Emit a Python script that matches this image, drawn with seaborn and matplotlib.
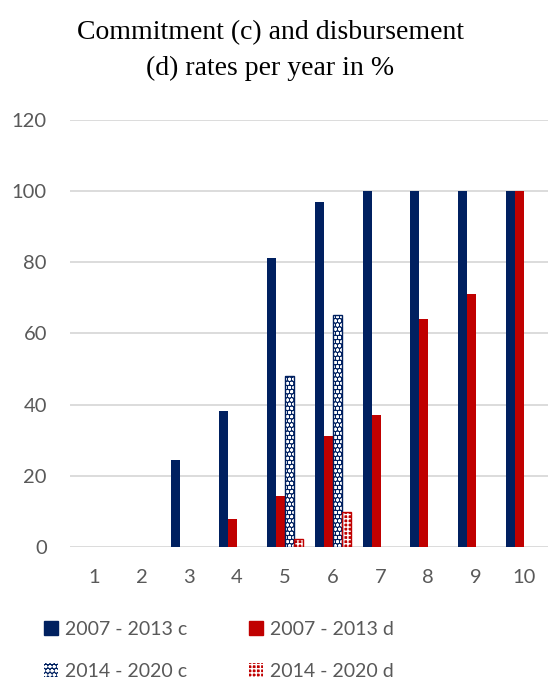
import matplotlib
matplotlib.use("Agg")
import matplotlib.pyplot as plt
import matplotlib.patches as mpatches
import seaborn as sns
import pandas as pd

# Years since start of programming period
years = ["1", "2", "3", "4", "5", "6", "7", "8", "9", "10"]
series = ["2007 - 2013 c", "2007 - 2013 d", "2014 - 2020 c", "2014 - 2020 d"]

c_2007 = [0, 0, 24.4, 38.2, 81.2, 97.0, 100, 100, 100, 100]
d_2007 = [0, 0, 0, 7.9, 14.3, 31.2, 37.1, 64.0, 71.0, 100]
c_2014 = [0, 0, 0, 0, 48.0, 65.2, 0, 0, 0, 0]
d_2014 = [0, 0, 0, 0, 2.2, 9.8, 0, 0, 0, 0]

navy = "#002060"
red = "#C00000"
colors = [navy, red, navy, red]
hatches = [None, None, "oooo", "++++"]

rows = []
for name, vals in zip(series, [c_2007, d_2007, c_2014, d_2014]):
    for y, v in zip(years, vals):
        rows.append({"year": y, "series": name, "rate": v})
df = pd.DataFrame(rows)

sns.set_theme(style="white")
plt.rcParams["font.family"] = ["Lato", "DejaVu Sans"]
plt.rcParams["hatch.linewidth"] = 1.0

fig = plt.figure(figsize=(5.5, 6.84), dpi=100)
ax = fig.add_axes([0.127, 0.2003, 0.869, 0.6243])

sns.barplot(data=df, x="year", y="rate", hue="series", order=years,
            hue_order=series, palette=colors, width=0.75, gap=0,
            saturation=1, legend=False, ax=ax, linewidth=0)

# patterned fill for the 2014-2020 period
for cont, color, hatch in zip(ax.containers, colors, hatches):
    if hatch is None:
        continue
    for bar in cont:
        if bar.get_height() <= 0:
            bar.set_visible(False)
            continue
        bar.set_hatch(hatch)
        bar.set_edgecolor("white")
        bar.set_linewidth(0)
        outline = mpatches.Rectangle(bar.get_xy(), bar.get_width(),
                                     bar.get_height(), fill=False,
                                     edgecolor=color, linewidth=1.0, zorder=3)
        ax.add_patch(outline)

ax.set_ylim(0, 120)
ax.set_yticks(range(0, 121, 20))
ax.set_xlim(-0.5, 9.5)
ax.grid(axis="y", color="#D9D9D9", linewidth=1.3)
ax.set_axisbelow(True)
for s in ax.spines.values():
    s.set_visible(False)
ax.set_xlabel("")
ax.set_ylabel("")
ax.tick_params(axis="both", length=0, labelsize=14.5, colors="#595959")
ax.tick_params(axis="y", pad=16.5)
ax.tick_params(axis="x", pad=15.5)

fig.text(0.491, 0.971, "Commitment (c) and disbursement\n(d) rates per year in %",
         ha="center", va="top", fontsize=20, family="Liberation Serif",
         color="black", linespacing=1.55)

handles = []
for name, color, hatch in zip(series, colors, hatches):
    if hatch is None:
        handles.append(mpatches.Patch(facecolor=color, edgecolor=color, label=name))
    else:
        handles.append(mpatches.Patch(facecolor=color, edgecolor="white",
                                      hatch=hatch, linewidth=0, label=name))
# legend fills column-wise, so order entries to read row by row
leg_order = [0, 2, 1, 3]
fig.legend(handles=[handles[i] for i in leg_order],
           labels=[series[i] for i in leg_order], ncol=2, loc="upper left",
           bbox_to_anchor=(0.049, 0.118), frameon=False, fontsize=14,
           labelcolor="#595959", handlelength=0.7, handleheight=0.7,
           handletextpad=0.35, columnspacing=3.2, labelspacing=1.3)

fig.savefig("out.png", dpi=100)
